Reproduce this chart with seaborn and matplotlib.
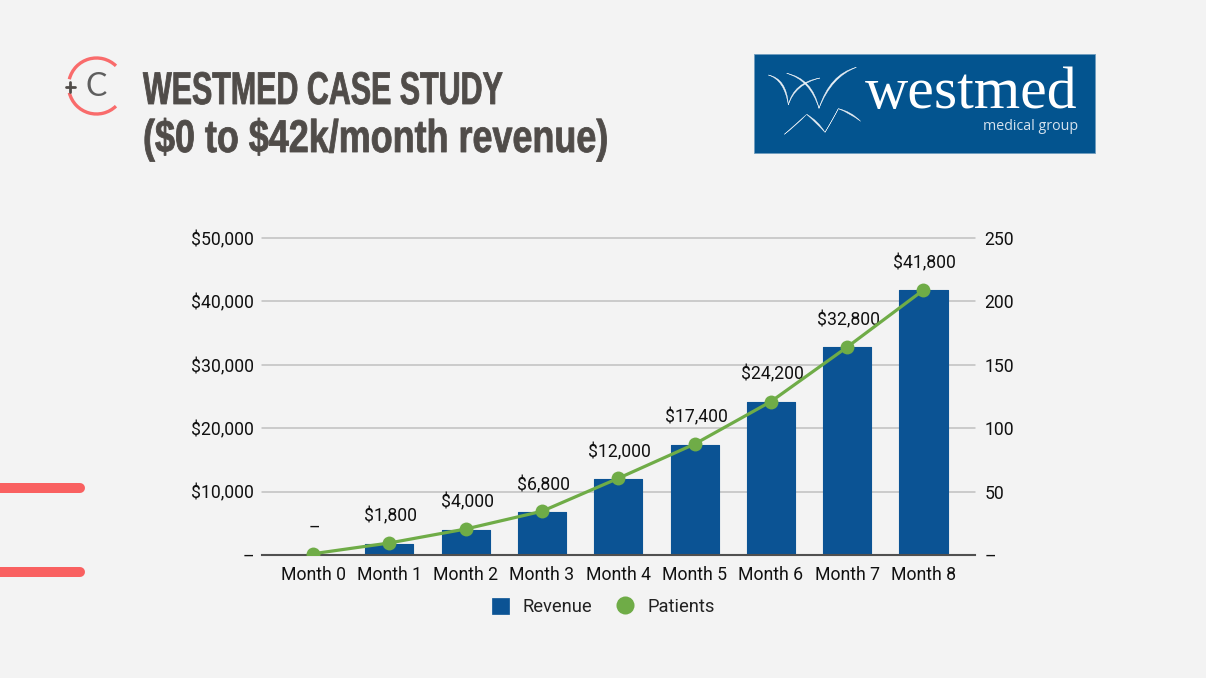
import numpy as np
import pandas as pd
import matplotlib
matplotlib.use("Agg")
import matplotlib.pyplot as plt
from matplotlib.lines import Line2D
from matplotlib.patches import Patch, Rectangle, Arc, PathPatch
from matplotlib.path import Path
from matplotlib.patheffects import AbstractPathEffect
from matplotlib.transforms import Affine2D
import seaborn as sns

months = ["Month 0", "Month 1", "Month 2", "Month 3", "Month 4", "Month 5", "Month 6", "Month 7", "Month 8"]
revenue = [0, 1800, 4000, 6800, 12000, 17400, 24200, 32800, 41800]
patients = [1, 9.5, 20.5, 34.5, 60.5, 87.5, 121, 164, 209]
revenue_labels = ["–", "$1,800", "$4,000", "$6,800", "$12,000", "$17,400", "$24,200", "$32,800", "$41,800"]
left_ticks = [0, 10000, 20000, 30000, 40000, 50000]
left_labels = ["–", "$10,000", "$20,000", "$30,000", "$40,000", "$50,000"]
right_ticks = [0, 50, 100, 150, 200, 250]
right_labels = ["–", "50", "100", "150", "200", "250"]
title_lines = [r"WESTMED CASE STUDY", r"(\$0 to \$42k/month revenue)"]

BG = "#F3F3F3"; BLUE = "#0B5394"; GREEN = "#6FAC47"; RED = "#F96060"; DARK = "#504C49"; LOGO = "#03548F"
W, H = 1206, 678


class Squeeze(AbstractPathEffect):
    """Draws a real text narrower and heavier, about its left edge."""
    def __init__(self, x0, sx, stroke, color):
        super().__init__()
        self.x0, self.sx, self.stroke, self.color = x0, sx, stroke, color

    def draw_path(self, renderer, gc, tpath, affine, rgbFace=None):
        aff = affine + Affine2D().translate(-self.x0, 0).scale(self.sx, 1).translate(self.x0, 0)
        gc0 = renderer.new_gc()
        gc0.copy_properties(gc)
        gc0.set_linewidth(self.stroke)
        gc0.set_foreground(self.color)
        renderer.draw_path(gc0, tpath, aff, rgbFace)
        gc0.restore()


sns.set_theme(style="white")
plt.rcParams["font.family"] = ["Roboto", "Liberation Sans", "DejaVu Sans"]
fig = plt.figure(figsize=(W / 100, H / 100), dpi=100, facecolor=BG)
df = pd.DataFrame({"month": months, "revenue": revenue, "patients": patients, "pos": np.arange(len(months))})

ax = fig.add_axes([262 / W, 1 - 555 / H, (975 - 262) / W, (555 - 238) / H], facecolor="none")
sns.barplot(data=df, x="month", y="revenue", color=BLUE, saturation=1, width=0.63, ax=ax, zorder=3)
for p in ax.patches:
    p.set_edgecolor(BLUE); p.set_linewidth(0.8); p.set_joinstyle("round")
ax.set_xlim(-0.67, 8.675)
ax.set_ylim(0, 50000)
ax.set_yticks(left_ticks, left_labels)
ax.set_xlabel(""); ax.set_ylabel("")
ax.tick_params(axis="both", length=0, labelsize=12.7, colors="#111111")
ax.tick_params(axis="x", pad=7.8)
ax.tick_params(axis="y", pad=5.5)
ax.grid(axis="y", color="#BFBFBF", lw=1.1, zorder=0)
for g in ax.get_ygridlines():
    g.set_clip_on(False)
ax.set_axisbelow(True)
for s in ["top", "left", "right"]:
    ax.spines[s].set_visible(False)
ax.spines["bottom"].set_color("#505050"); ax.spines["bottom"].set_linewidth(1.5); ax.spines["bottom"].set_zorder(4)

ax2 = ax.twinx()
sns.lineplot(data=df, x="pos", y="patients", color=GREEN, lw=2.3, marker="o", ms=10, mec=GREEN, mew=0, ax=ax2, zorder=5)
ax2.set_xlim(ax.get_xlim())
ax2.set_ylim(0, 250)
ax2.set_yticks(right_ticks, right_labels)
ax2.set_xlabel(""); ax2.set_ylabel("")
ax2.tick_params(axis="y", length=0, labelsize=12.7, colors="#111111", pad=7)
for s in ax2.spines.values():
    s.set_visible(False)
for i, (v, lab) in enumerate(zip(revenue, revenue_labels)):
    ax.annotate(lab, (i, v), xytext=(1, 19.5), textcoords="offset points", ha="center", va="center",
                fontsize=12.7, color="#111111", zorder=6)

# page overlay in pixel coordinates
ov = fig.add_axes([0, 0, 1, 1], facecolor="none", zorder=10)
ov.set_xlim(0, W); ov.set_ylim(H, 0); ov.axis("off")

handles = [Patch(facecolor=BLUE, edgecolor=BLUE, lw=0.5, joinstyle="round"),
           Line2D([], [], marker="o", ls="none", color=GREEN, ms=13, mew=0)]
ov.legend(handles, ["Revenue", "Patients"], loc="center", bbox_to_anchor=(603, 607), bbox_transform=ov.transData,
          ncol=2, frameon=False, fontsize=13.2, handlelength=0.95, handleheight=0.95, handletextpad=0.72, columnspacing=1.35,
          labelcolor="#222222", borderpad=0, borderaxespad=0)

for y in (487.7, 572):
    ov.add_line(Line2D([-20, 80], [y, y], color=RED, lw=7.2, solid_capstyle="round"))

# title: real text, narrowed to the reference's width
renderer = fig.canvas.get_renderer()
for line, base, target in zip(title_lines, (104, 152), (360, 466)):
    t = ov.text(143, base, line, family=["Liberation Sans"], weight="bold", fontsize=33, color=DARK, va="baseline", ha="left")
    width = t.get_window_extent(renderer).width
    x0 = ov.transData.transform((143, 0))[0]
    t.set_path_effects([Squeeze(x0, target / width, 0.6, DARK)])

# small C logo
ov.add_patch(Arc((96.5, 86), 56, 56, theta1=194, theta2=314, color="#F96B6B", lw=2.4))
ov.add_patch(Arc((96.5, 86), 56, 56, theta1=46, theta2=166, color="#F96B6B", lw=2.4))
ov.add_line(Line2D([65.5, 74.5], [86.7, 86.7], color=DARK, lw=2))
ov.add_line(Line2D([70, 70], [82, 91.5], color=DARK, lw=2))
ov.text(96, 86.7, "C", family=["Lato", "DejaVu Sans"], fontsize=23, color="#5E5E5E", ha="center", va="center")

# westmed logo
ov.add_patch(Rectangle((754, 54), 341, 99, facecolor=LOGO, edgecolor="#6F9DBE", lw=0.6))
ov.text(865, 108, "westmed", family=["Liberation Serif"], fontsize=43, color="white", ha="left", va="baseline")
ov.text(1078, 129.5, "medical group", family=["Open Sans", "Liberation Sans"], fontsize=10.3, color="#D5E2EE", ha="right", va="baseline")


def z(x, y):
    return (745 + x / 3, 45 + y / 3)


def crescent(start, ctl, end, bulge):
    a, c, b = z(*start), z(*ctl), z(*end)
    c2 = (c[0] + bulge[0], c[1] + bulge[1])
    verts = [a, c, b, c2, a]
    codes = [Path.MOVETO, Path.CURVE3, Path.CURVE3, Path.CURVE3, Path.CURVE3]
    ov.add_patch(PathPatch(Path(verts, codes), facecolor="#EDF2F7", edgecolor="#EDF2F7", lw=0.3))


crescent((70, 90), (118, 105), (130, 180), (2.5, -1.5))
crescent((130, 180), (150, 118), (225, 99), (-1.5, -2))
crescent((125, 85), (195, 105), (222, 190), (2.5, -1.5))
crescent((222, 190), (260, 95), (334, 67), (-2, -2.5))
crescent((118, 268), (155, 240), (185, 208), (1, -2.5))
crescent((185, 208), (215, 235), (240, 262), (1.5, -2.5))
crescent((240, 262), (262, 225), (280, 191), (1.5, -2))
crescent((280, 191), (315, 205), (347, 229), (1, -2))

fig.savefig("out.png", dpi=100, facecolor=BG)
